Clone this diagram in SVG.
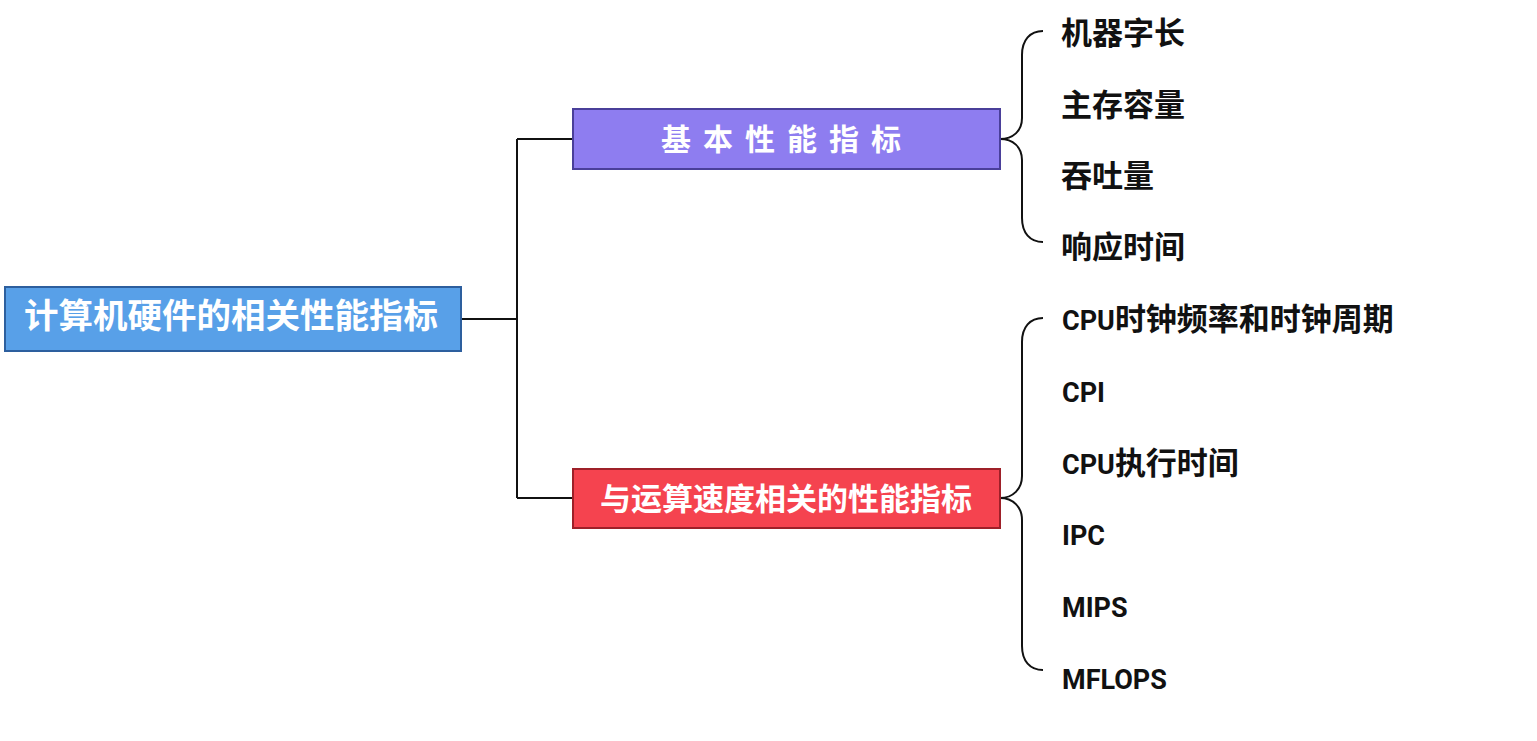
<svg xmlns="http://www.w3.org/2000/svg" width="1537" height="741" viewBox="0 0 1537 741">
<style>
.box{stroke-width:2}
.title{font-family:"Noto Sans CJK SC","Liberation Sans",sans-serif;font-weight:bold;fill:#ffffff;text-anchor:middle}
.item{font-family:Roboto,"Noto Sans CJK SC",sans-serif;font-weight:bold;fill:#111111;font-size:27px}
.cjk{font-family:"Noto Sans CJK SC",sans-serif;font-size:31px}
.line{fill:none;stroke:#111111;stroke-width:2}
</style>
<rect width="1537" height="741" fill="#ffffff"/>
<g id="connectors">
<path class="line" d="M461,319 H517 M517,139 V498 M517,139 H573 M517,498 H573"/>
<path class="line" d="M1043,31 C1030,31 1022,40 1022,55 L1022,118 C1022,131 1013,139 1000,139 C1013,139 1022,147 1022,160 L1022,218 C1022,233 1030,242 1043,242"/>
<path class="line" d="M1043,318 C1030,318 1022,327 1022,342 L1022,476 C1022,489 1013,498 1000,498 C1013,498 1022,507 1022,520 L1022,646 C1022,661 1030,670 1043,670"/>
</g>
<g id="root">
<rect class="box" x="5" y="287" width="456" height="64" fill="#58a0e8" stroke="#2d5f9e"/>
<text class="title" x="231" y="328" font-size="34.5">计算机硬件的相关性能指标</text>
</g>
<g id="basic">
<rect class="box" x="573" y="109" width="427" height="60" fill="#8e7df0" stroke="#4a3f9a"/>
<text class="title" x="787" y="150" font-size="30" letter-spacing="12">基本性能指标</text>
</g>
<g id="speed">
<rect class="box" x="573" y="469" width="427" height="59" fill="#f5434f" stroke="#9e2029"/>
<text class="title" x="786" y="510" font-size="31">与运算速度相关的性能指标</text>
</g>
<g id="basic-items">
<text class="item cjk" x="1061" y="44">机器字长</text>
<text class="item cjk" x="1061" y="116">主存容量</text>
<text class="item cjk" x="1061" y="187">吞吐量</text>
<text class="item cjk" x="1061" y="258">响应时间</text>
</g>
<g id="speed-items">
<text class="item" x="1062" y="330">CPU<tspan class="cjk">时钟频率和时钟周期</tspan></text>
<text class="item" x="1062" y="402">CPI</text>
<text class="item" x="1062" y="474">CPU<tspan class="cjk">执行时间</tspan></text>
<text class="item" x="1062" y="545">IPC</text>
<text class="item" x="1062" y="617">MIPS</text>
<text class="item" x="1062" y="689">MFLOPS</text>
</g>
</svg>
